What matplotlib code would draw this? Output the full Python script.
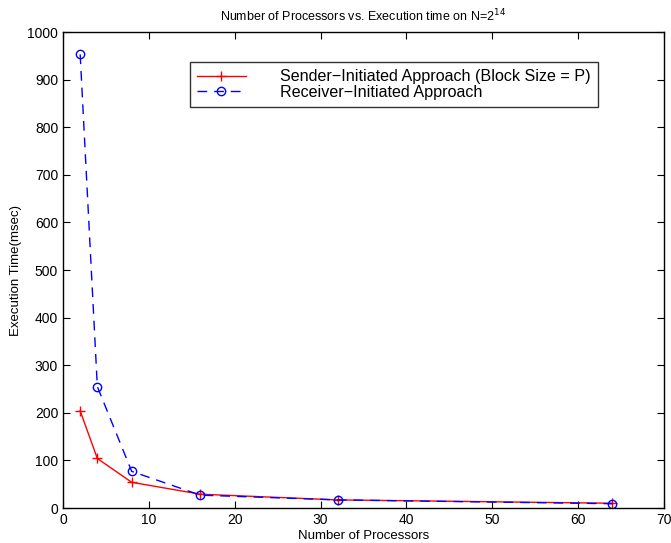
import matplotlib
matplotlib.use("Agg")
import matplotlib.pyplot as plt

processors = [2, 4, 8, 16, 32, 64]
sender_ms = [204, 104, 54, 29, 17, 10]
receiver_ms = [953, 255, 77, 27, 17, 9]

plt.rcParams['font.family'] = ['Liberation Sans', 'DejaVu Sans']

fig = plt.figure(figsize=(6.71, 5.43), dpi=100)
ax = fig.add_axes([63/671, 1 - 508/543, (664-63)/671, (508-32)/543])

ax.plot(processors, sender_ms, color='red', linestyle='-', marker='+',
        markersize=7, linewidth=1, label='Sender\u2212Initiated Approach (Block Size = P)')
ax.plot(processors, receiver_ms, color='blue', linestyle=(0, (7, 5)), marker='o',
        markersize=6, markerfacecolor='none', linewidth=1,
        label='Receiver\u2212Initiated Approach')

ax.set_xlim(0, 70)
ax.set_ylim(0, 1000)
ax.set_xticks(range(0, 71, 10))
ax.set_yticks(range(0, 1001, 100))
ax.tick_params(direction='in', top=True, right=True, labelsize=10, length=5)
for s in ax.spines.values():
    s.set_linewidth(1)

ax.set_xlabel('Number of Processors', fontsize=9.5, labelpad=2)
ax.set_ylabel('Execution Time(msec)', fontsize=9.5, labelpad=4)
ax.set_title('Number of Processors vs. Execution time on N=2$^{14}$', fontsize=9, pad=8)

leg = ax.legend(loc='upper left', bbox_to_anchor=((190-63)/601, 1 - (62-32)/476),
                fontsize=11.6, frameon=True, fancybox=False, edgecolor='black',
                borderpad=0.45, handlelength=3.0, handletextpad=2.15, labelspacing=0.05,
                borderaxespad=0)
leg.get_frame().set_linewidth(1)

fig.savefig('out.png', dpi=100)
